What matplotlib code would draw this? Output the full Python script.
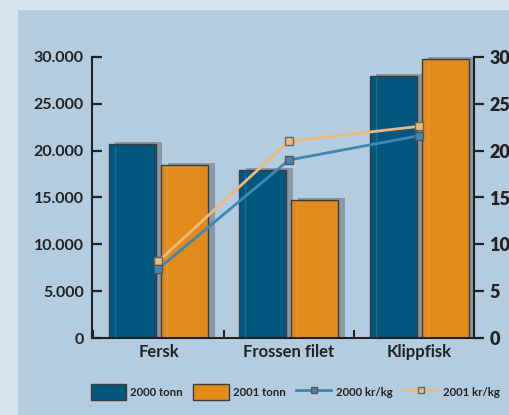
import numpy as np
import matplotlib.pyplot as plt
from matplotlib.patches import Rectangle, Patch
from matplotlib.lines import Line2D
from matplotlib.ticker import FuncFormatter, MultipleLocator

# data
kategorier = ['Fersk', 'Frossen filet', 'Klippfisk']
tonn_2000 = [20700, 17900, 28000]
tonn_2001 = [18500, 14700, 29800]
krkg_2000 = [7.4, 19.0, 21.6]
krkg_2001 = [8.2, 21.0, 22.6]

bla = '#02577f'
oransje = '#e28b1a'
linje_bla = '#3d89b4'
linje_oransje = '#f1b879'
skygge = '#8494a1'

plt.rcParams['font.family'] = ['Lato', 'DejaVu Sans']

fig = plt.figure(figsize=(5.09, 4.15), dpi=100)
fig.patch.set_facecolor('#d8e5ee')
# indre panel
fig.patches.append(Rectangle((18 / 509, 0), 1, 1 - 10 / 415, transform=fig.transFigure,
                             facecolor='#b4cce0', edgecolor='none', zorder=-10))

ax = fig.add_axes([92 / 509, 1 - 338 / 415, (474 - 92) / 509, (338 - 57) / 415])
ax.patch.set_alpha(0)

x = np.arange(len(kategorier))
w = 0.36
off = 0.2
sx = 0.05  # skygge forskyvning
sy = 230

for xs, vals, col in [(x - off, tonn_2000, bla), (x + off, tonn_2001, oransje)]:
    vals = np.array(vals)
    ax.bar(xs + sx, vals + sy, width=w, color=skygge, alpha=0.9, zorder=1)
    ax.bar(xs, vals, width=w, color=col, edgecolor='#3d3d3d', linewidth=1, zorder=2)
    ax.vlines(xs - w / 2 + 0.045, 0, vals - 150, color='white', alpha=0.12, linewidth=1, zorder=3)

ax.set_xlim(-0.51, 2.42)
ax.set_ylim(0, 30000)
ax.yaxis.set_major_locator(MultipleLocator(5000))
ax.yaxis.set_major_formatter(FuncFormatter(lambda v, p: f'{int(v):,}'.replace(',', '.')))
ax.set_xticks(x)
ax.set_xticklabels(kategorier, fontsize=12, fontweight='bold', color='#222222')
ax.tick_params(axis='x', length=0, pad=4)
ax.set_xticks([-0.5, 0.5, 1.5], minor=True)
ax.tick_params(axis='x', which='minor', direction='in', length=6, width=1.5, color='#222222')
ax.tick_params(axis='y', direction='in', length=7, width=1.6, color='#222222',
               labelsize=11.5, pad=6, labelcolor='#222222')
for t in ax.get_yticklabels():
    t.set_fontweight('bold')
for s in ['top', 'right']:
    ax.spines[s].set_visible(False)
for s in ['left', 'bottom']:
    ax.spines[s].set_color('#222222')
    ax.spines[s].set_linewidth(1.5)

ax2 = ax.twinx()
ax2.plot(x, krkg_2001, color=linje_oransje, linewidth=2, marker='s', markersize=6,
         markerfacecolor=linje_oransje, markeredgecolor='#666666', markeredgewidth=1, zorder=5)
ax2.plot(x, krkg_2000, color=linje_bla, linewidth=2, marker='s', markersize=6,
         markerfacecolor=linje_bla, markeredgecolor='#555555', markeredgewidth=1, zorder=5)
ax2.set_ylim(0, 30)
ax2.yaxis.set_major_locator(MultipleLocator(5))
ax2.tick_params(axis='y', direction='out', length=7, width=1.6, color='#222222',
                labelsize=13, pad=4, labelcolor='#222222')
for t in ax2.get_yticklabels():
    t.set_fontweight('heavy')
for s in ['top', 'left', 'bottom']:
    ax2.spines[s].set_visible(False)
ax2.spines['right'].set_color('#222222')
ax2.spines['right'].set_linewidth(1.5)

handles = [
    Patch(facecolor=bla, edgecolor='#3d3d3d', label='2000 tonn'),
    Patch(facecolor=oransje, edgecolor='#3d3d3d', label='2001 tonn'),
    Line2D([], [], color=linje_bla, linewidth=2, marker='s', markersize=5,
           markeredgecolor='#555555', label='2000 kr/kg'),
    Line2D([], [], color=linje_oransje, linewidth=2, marker='s', markersize=5,
           markeredgecolor='#666666', label='2001 kr/kg'),
]
leg = fig.legend(handles=handles, loc='center left', bbox_to_anchor=(86 / 509, 1 - 392 / 415),
                 ncol=4, frameon=False, fontsize=8.2, handlelength=3.1, handleheight=1.9,
                 handletextpad=0.4, columnspacing=0.9, borderaxespad=0)
for t in leg.get_texts():
    t.set_fontweight('bold')
    t.set_color('#222222')

fig.savefig('out.png', dpi=100, facecolor=fig.get_facecolor())
